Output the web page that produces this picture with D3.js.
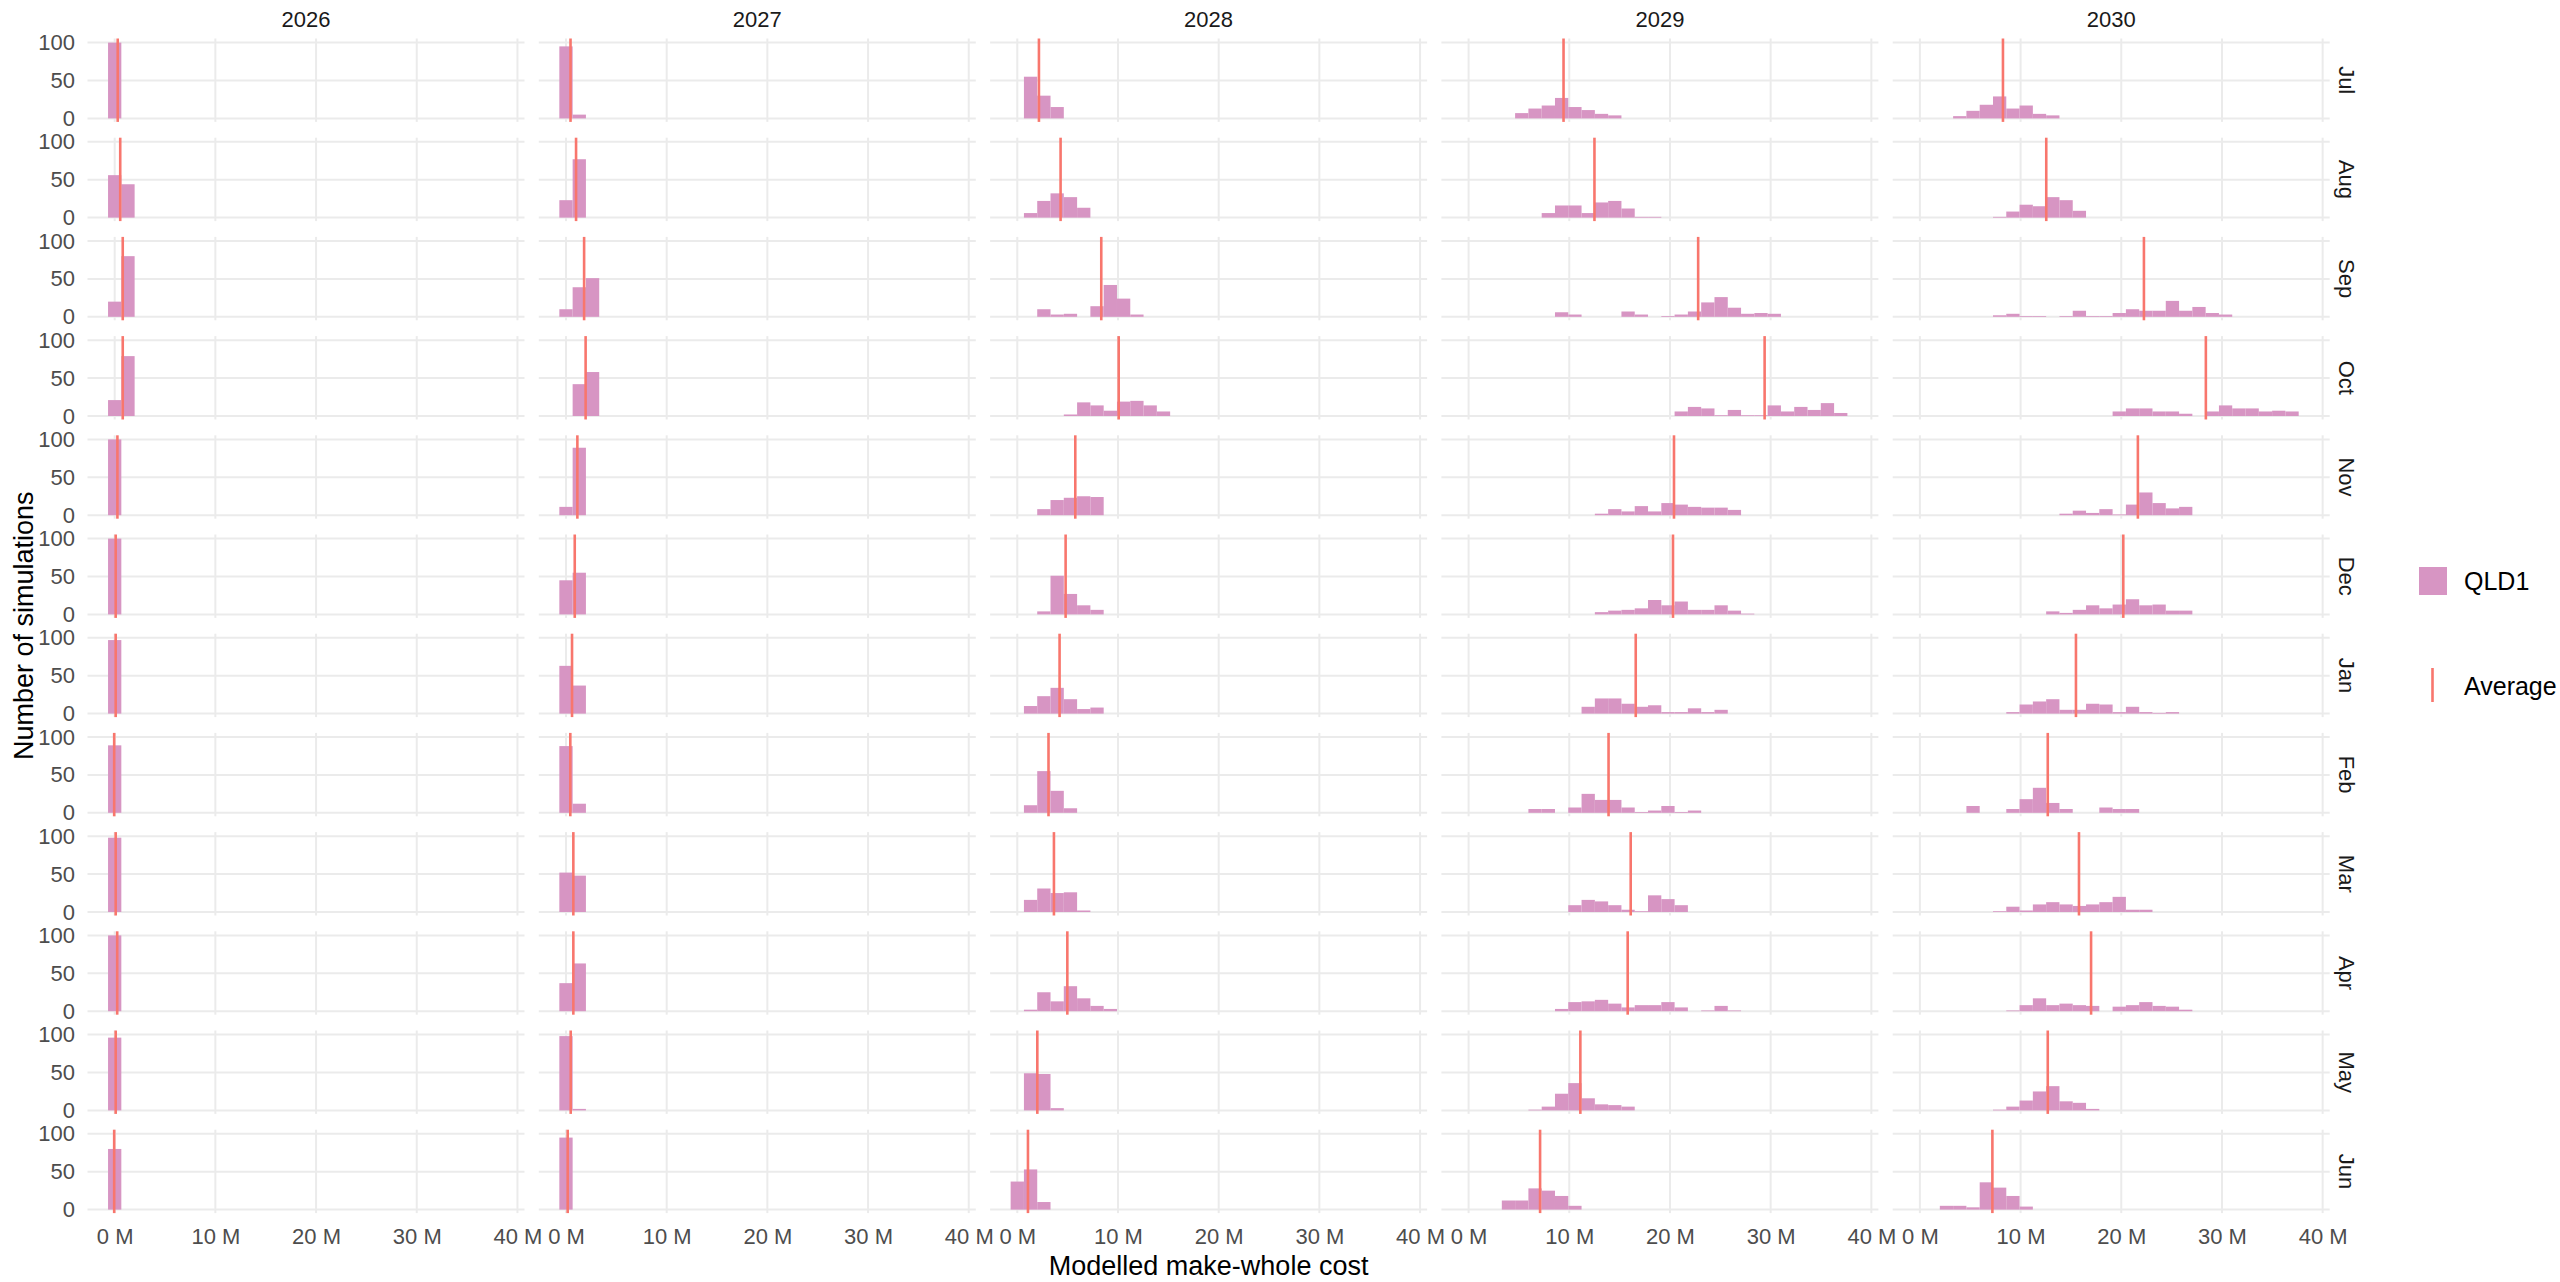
<!DOCTYPE html>
<html>
<head>
<meta charset="utf-8">
<script src="https://cdn.jsdelivr.net/npm/d3@7"></script>
<style>
  body { margin: 0; background: #ffffff; }
  svg { display: block; }
  text { font-family: "Liberation Sans", Arial, sans-serif; }
</style>
</head>
<body>
<svg id="chart" width="2560" height="1282"></svg>
<script>
// ---------------- DATA ----------------
const years = ["2026", "2027", "2028", "2029", "2030"];
const months = ["Jul", "Aug", "Sep", "Oct", "Nov", "Dec", "Jan", "Feb", "Mar", "Apr", "May", "Jun"];
const binWidthM = 1.32;            // histogram bin width (millions); bins centred on k * binWidth
const xTicks = [0, 10, 20, 30, 40];
const yTicks = [0, 50, 100];
const seriesName = "QLD1";
const avgName = "Average";

// each month: [first bin index, counts for consecutive bins...]
const hist2026 = [
  [0, 100], [0, 56, 44], [0, 20, 80], [0, 21, 79], [0, 100], [0, 100],
  [0, 97], [0, 89], [0, 98], [0, 100], [0, 96], [0, 80]
];
const hist2027 = [
  [0, 95, 5], [0, 23, 77], [0, 10, 39, 51], [1, 42, 58], [0, 11, 89], [0, 45, 55],
  [0, 63, 37], [0, 88, 12], [0, 52, 48], [0, 37, 63], [0, 98, 2], [0, 95]
];
const hist2028 = [
  [1, 55, 30, 15],
  [1, 6, 22, 32, 27, 13],
  [2, 10, 3, 4, 0, 14, 42, 24, 3],
  [4, 2, 18, 14, 7, 19, 20, 14, 6],
  [2, 8, 20, 23, 25, 24],
  [2, 4, 51, 27, 12, 6],
  [1, 10, 23, 34, 19, 6, 8],
  [1, 10, 55, 29, 6],
  [1, 16, 31, 25, 26, 2],
  [1, 2, 25, 13, 33, 17, 7, 3],
  [1, 49, 48, 3],
  [0, 37, 53, 10]
];
const hist2029 = [
  [4, 7, 13, 17, 27, 15, 11, 6, 4],
  [6, 6, 16, 16, 6, 20, 22, 12, 1, 1],
  [7, 6, 3, 0, 0, 0, 7, 3, 0, 1, 3, 7, 19, 26, 12, 4, 5, 4],
  [16, 6, 12, 10, 1, 8, 1, 1, 14, 6, 12, 8, 17, 4],
  [10, 2, 8, 5, 12, 5, 16, 14, 11, 10, 10, 7],
  [10, 3, 5, 6, 8, 19, 12, 17, 6, 6, 12, 5, 1],
  [9, 9, 20, 20, 13, 9, 11, 2, 2, 7, 2, 5],
  [5, 5, 5, 0, 7, 25, 17, 17, 7, 1, 3, 9, 1, 3],
  [8, 9, 16, 14, 9, 3, 1, 22, 17, 9],
  [7, 3, 12, 13, 15, 10, 5, 8, 8, 12, 5, 0, 1, 7, 1],
  [5, 1, 5, 22, 36, 16, 8, 7, 5],
  [3, 12, 12, 28, 25, 18, 5]
];
const hist2030 = [
  [3, 3, 10, 18, 29, 13, 17, 6, 4],
  [6, 1, 8, 17, 15, 27, 23, 9],
  [6, 2, 4, 1, 1, 0, 1, 8, 1, 1, 5, 10, 8, 8, 21, 8, 13, 5, 3],
  [15, 6, 10, 10, 6, 6, 3, 0, 6, 14, 10, 10, 6, 7, 6],
  [11, 2, 6, 3, 8, 1, 14, 30, 16, 9, 11],
  [10, 4, 2, 6, 12, 8, 13, 20, 12, 13, 5, 5],
  [7, 2, 12, 16, 19, 5, 5, 13, 12, 2, 9, 2, 1, 2],
  [4, 9, 0, 0, 5, 18, 33, 13, 5, 0, 0, 7, 5, 5],
  [6, 1, 7, 2, 10, 13, 10, 8, 10, 13, 20, 3, 3],
  [7, 1, 8, 17, 8, 10, 8, 7, 0, 6, 8, 12, 7, 6, 2],
  [6, 1, 5, 13, 25, 32, 12, 10, 2],
  [2, 5, 5, 3, 36, 29, 18, 4]
];

// average make-whole cost (millions) per month
const avg2026 = [0.3, 0.55, 0.8, 0.8, 0.27, 0.1, 0.1, -0.05, 0.1, 0.25, 0.1, -0.05];
const avg2027 = [0.45, 1.0, 1.8, 1.95, 1.13, 0.87, 0.6, 0.43, 0.73, 0.73, 0.47, 0.17];
const avg2028 = [2.15, 4.3, 8.34, 10.07, 5.76, 4.8, 4.2, 3.1, 3.64, 4.97, 1.99, 1.06];
const avg2029 = [9.43, 12.5, 22.8, 29.4, 20.4, 20.3, 16.6, 13.9, 16.1, 15.8, 11.1, 7.1];
const avg2030 = [8.25, 12.55, 22.25, 28.4, 21.65, 20.2, 15.5, 12.7, 15.8, 17.0, 12.7, 7.2];

const histByYear = [hist2026, hist2027, hist2028, hist2029, hist2030];
const avgByYear = [avg2026, avg2027, avg2028, avg2029, avg2030];

// ---------------- LAYOUT / STYLE ----------------
const panelW = 437, panelH = 83.4;
const colPitch = 451.3, rowPitch = 99.2;
const left0 = 87.5, top0 = 38.5;
const fillColor = "#D795C3";
const avgColor = "#F8766D";
const gridColor = "#EBEBEB";
const fontFamily = '"Liberation Sans", Arial, sans-serif';

const svg = d3.select("#chart");
svg.append("rect").attr("width", 2560).attr("height", 1282).attr("fill", "#ffffff");

const x = d3.scaleLinear().domain([-2.7, 40.7]).range([0, panelW]);
const y = d3.scaleLinear().domain([-4.6, 105.4]).range([panelH, 0]);

years.forEach((yr, c) => {
  const px = left0 + c * colPitch;

  // column strip (top)
  svg.append("text")
    .attr("x", px + panelW / 2).attr("y", 26.5)
    .attr("text-anchor", "middle")
    .attr("font-size", 22).attr("fill", "#1A1A1A")
    .text(yr);

  months.forEach((m, r) => {
    const py = top0 + r * rowPitch;
    const g = svg.append("g").attr("transform", `translate(${px},${py})`);

    // gridlines
    g.selectAll("line.gx").data(xTicks).join("line")
      .attr("x1", d => x(d)).attr("x2", d => x(d))
      .attr("y1", 0).attr("y2", panelH)
      .attr("stroke", gridColor).attr("stroke-width", 2);
    g.selectAll("line.gy").data(yTicks).join("line")
      .attr("y1", d => y(d)).attr("y2", d => y(d))
      .attr("x1", 0).attr("x2", panelW)
      .attr("stroke", gridColor).attr("stroke-width", 2);

    // histogram bars
    const h = histByYear[c][r];
    const start = h[0];
    const bins = h.slice(1).map((n, i) => ({ k: start + i, n }));
    g.selectAll("rect.bar").data(bins.filter(d => d.n > 0)).join("rect")
      .attr("x", d => x((d.k - 0.5) * binWidthM))
      .attr("width", d => x((d.k + 0.5) * binWidthM) - x((d.k - 0.5) * binWidthM))
      .attr("y", d => y(d.n))
      .attr("height", d => y(0) - y(d.n))
      .attr("fill", fillColor);

    // average line
    const a = avgByYear[c][r];
    g.append("line")
      .attr("x1", x(a)).attr("x2", x(a))
      .attr("y1", 0).attr("y2", panelH)
      .attr("stroke", avgColor).attr("stroke-width", 2.6);

    // y axis labels on first column
    if (c === 0) {
      const ax = g.append("g").call(
        d3.axisLeft(y).tickValues(yTicks).tickSize(0).tickPadding(12.5)
      );
      ax.select(".domain").remove();
      ax.selectAll("text").attr("font-size", 22).attr("fill", "#4D4D4D")
        .attr("font-family", fontFamily);
    }
    // x axis labels on bottom row
    if (r === months.length - 1) {
      const ax = g.append("g").attr("transform", `translate(0,${panelH})`).call(
        d3.axisBottom(x).tickValues(xTicks).tickFormat(d => d + " M").tickSize(0).tickPadding(15)
      );
      ax.select(".domain").remove();
      ax.selectAll("text").attr("font-size", 22).attr("fill", "#4D4D4D")
        .attr("font-family", fontFamily);
    }
    // row strips (right)
    if (c === years.length - 1) {
      svg.append("text")
        .attr("transform", `translate(${px + panelW + 17.5},${py + panelH / 2}) rotate(90)`)
        .attr("text-anchor", "middle").attr("dy", "0.35em")
        .attr("font-size", 22).attr("fill", "#1A1A1A")
        .text(m);
    }
  });
});

// axis titles
const plotLeft = left0, plotRight = left0 + (years.length - 1) * colPitch + panelW;
const plotTop = top0, plotBottom = top0 + (months.length - 1) * rowPitch + panelH;
svg.append("text")
  .attr("x", (plotLeft + plotRight) / 2).attr("y", 1275)
  .attr("text-anchor", "middle").attr("font-size", 27).attr("fill", "#000")
  .text("Modelled make-whole cost");
svg.append("text")
  .attr("transform", `translate(33,${(plotTop + plotBottom) / 2}) rotate(-90)`)
  .attr("text-anchor", "middle").attr("font-size", 27).attr("fill", "#000")
  .text("Number of simulations");

// legend
const lg = svg.append("g");
lg.append("rect").attr("x", 2419).attr("y", 567).attr("width", 28).attr("height", 28).attr("fill", fillColor);
lg.append("text").attr("x", 2464).attr("y", 581).attr("dy", "0.35em")
  .attr("font-size", 25).attr("fill", "#000").text(seriesName);
lg.append("line").attr("x1", 2432.5).attr("x2", 2432.5).attr("y1", 668).attr("y2", 702)
  .attr("stroke", avgColor).attr("stroke-width", 2.6);
lg.append("text").attr("x", 2464).attr("y", 686).attr("dy", "0.35em")
  .attr("font-size", 25).attr("fill", "#000").text(avgName);
</script>
</body>
</html>
